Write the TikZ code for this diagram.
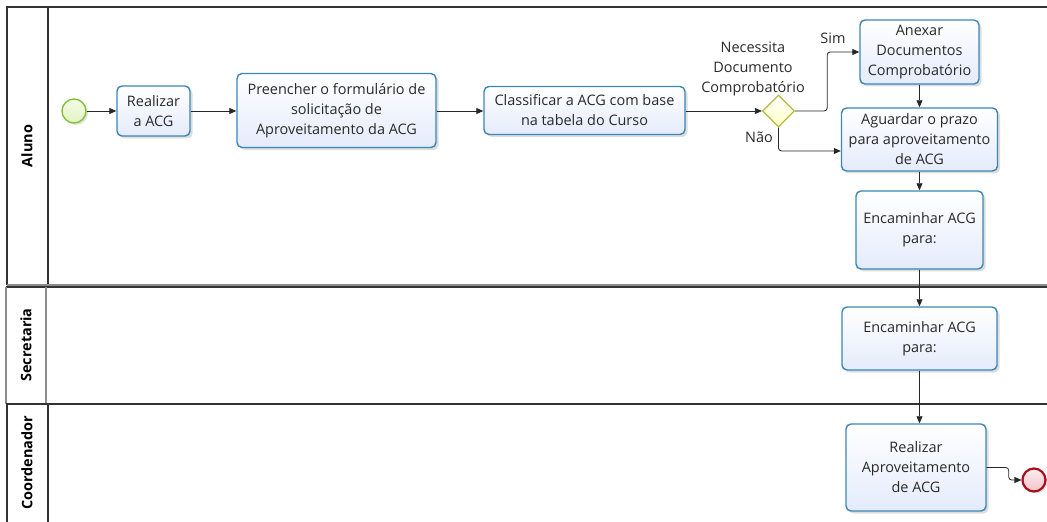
\documentclass[tikz,border=0pt]{standalone}
\usepackage{fontspec}
\setmainfont{Open Sans}
\usetikzlibrary{arrows.meta,shadows,shapes.geometric,calc}
\definecolor{taskline}{HTML}{3A87B6}
\definecolor{taskfill}{HTML}{E4EBFB}
\definecolor{gwline}{HTML}{B8B840}
\definecolor{gwfill}{HTML}{FFFFC4}
\definecolor{startline}{HTML}{84C23E}
\definecolor{startfill}{HTML}{E2F5C0}
\definecolor{endline}{HTML}{A3101E}
\definecolor{endfill}{HTML}{F3C4CA}
\definecolor{laneline}{HTML}{333333}
\definecolor{txt}{HTML}{2A2A2A}
\tikzset{
  lane/.style={draw=laneline, line width=1.3bp},
  lanegray/.style={draw=black!45, line width=1.3bp},
  lanelabel/.style={rotate=90, font=\fontsize{14.5}{18}\selectfont\bfseries, text=black},
  task/.style={draw=taskline, line width=1.4bp, rounded corners=5bp,
    top color=white, bottom color=taskfill, align=center, text=txt, inner sep=0pt,
    drop shadow={shadow xshift=2.5bp, shadow yshift=-2.5bp, opacity=0.22, fill=black!60}},
  gateway/.style={diamond, draw=gwline, line width=1.3bp, top color=white, bottom color=gwfill,
    minimum width=32bp, minimum height=32bp, inner sep=0pt},
  startev/.style={circle, draw=startline, line width=1.4bp, top color=white!60!startfill, bottom color=startfill,
    minimum size=24bp, inner sep=0pt,
    drop shadow={shadow xshift=2bp, shadow yshift=-2bp, opacity=0.2, fill=black!60}},
  endev/.style={circle, draw=endline, line width=2.2bp, top color=white!70!endfill, bottom color=endfill,
    minimum size=23bp, inner sep=0pt,
    drop shadow={shadow xshift=2bp, shadow yshift=-2bp, opacity=0.2, fill=black!60}},
  flow/.style={draw=black!85, line width=0.8bp, -{Triangle[length=7bp,width=6bp]}},
  note/.style={align=center, text=txt, inner sep=0pt}
}
\begin{document}
\begin{tikzpicture}[x=1bp, y=-1bp, font=\fontsize{14.5}{20}\selectfont]
\useasboundingbox (0,0) rectangle (1047,522);

% swimlanes
\draw[lane] (1047,7) -- (7,7) -- (7,285);
\draw[lane] (48,7) -- (48,285);
\draw[lanegray] (7,285) -- (1047,285);
\draw[lane] (6,287) -- (1047,287);
\draw[lanegray] (6,287) -- (6,404);
\draw[lanegray] (46,287) -- (46,404);
\draw[lane] (6,404) -- (1047,404);
\draw[lane] (7,404) -- (7,522);
\draw[lane] (48,404) -- (48,522);

\node[lanelabel] (lAluno) at (27,146) {Aluno};
\node[lanelabel] (lSec) at (26,345) {Secretaria};
\node[lanelabel] (lCoord) at (27,463) {Coordenador};

% events, tasks and gateway
\node[startev] (start) at (74,111) {};
\node[task, minimum width=73bp, minimum height=50bp] (t1) at (153.5,111) {Realizar\\a ACG};
\node[task, minimum width=199bp, minimum height=74bp] (t2) at (336.5,110.5) {Preencher o formulário de\\solicitação de\\Aproveitamento da ACG};
\node[task, minimum width=201bp, minimum height=48bp] (t3) at (584.5,110.5) {Classificar a ACG com base\\na tabela do Curso};
\node[gateway] (gw) at (778.5,111) {};
\node[task, minimum width=119bp, minimum height=64bp] (t4) at (919.5,52) {Anexar\\Documentos\\Comprobatório};
\node[task, minimum width=156bp, minimum height=63bp] (t5) at (919.5,139.5) {Aguardar o prazo\\para aproveitamento\\de ACG};
\node[task, minimum width=127bp, minimum height=78bp] (t6) at (919.5,230) {Encaminhar ACG\\para:};
\node[task, minimum width=155bp, minimum height=63bp] (t7) at (919.5,338.5) {Encaminhar ACG\\para:};
\node[task, minimum width=140bp, minimum height=87bp] (t8) at (916,467.5) {Realizar\\Aproveitamento\\de ACG};
\node[endev] (end) at (1034,480) {};

% labels
\node[note] (q) at (753,69) {Necessita\\Documento\\Comprobatório};
\node[note] (sim) at (833,38) {Sim};
\node[note] (nao) at (759,137) {Não};

% sequence flows
\draw[flow] (start.east) -- (t1.west |- start);
\draw[flow] (t1.east) -- (t2.west |- t1);
\draw[flow] (t2.east |- t1) -- (t3.west |- t1);
\draw[flow] (t3.east |- gw) -- (gw.west);
\draw[flow, rounded corners=3bp] (gw.east) -- ++(32,0) |- (t4.west);
\draw[flow, rounded corners=3bp] (gw.south) |- ($(t5.west)+(0,11.5)$);
\draw[flow] (t4.south) -- (t5.north);
\draw[flow] (t5.south) -- (t6.north);
\draw[flow] (t6.south) -- (t7.north);
\draw[flow] (t7.south) -- (t7.south |- t8.north);
\draw[flow, rounded corners=3bp] (t8.east) -- ++(22,0) |- (end.west);
\end{tikzpicture}
\end{document}
